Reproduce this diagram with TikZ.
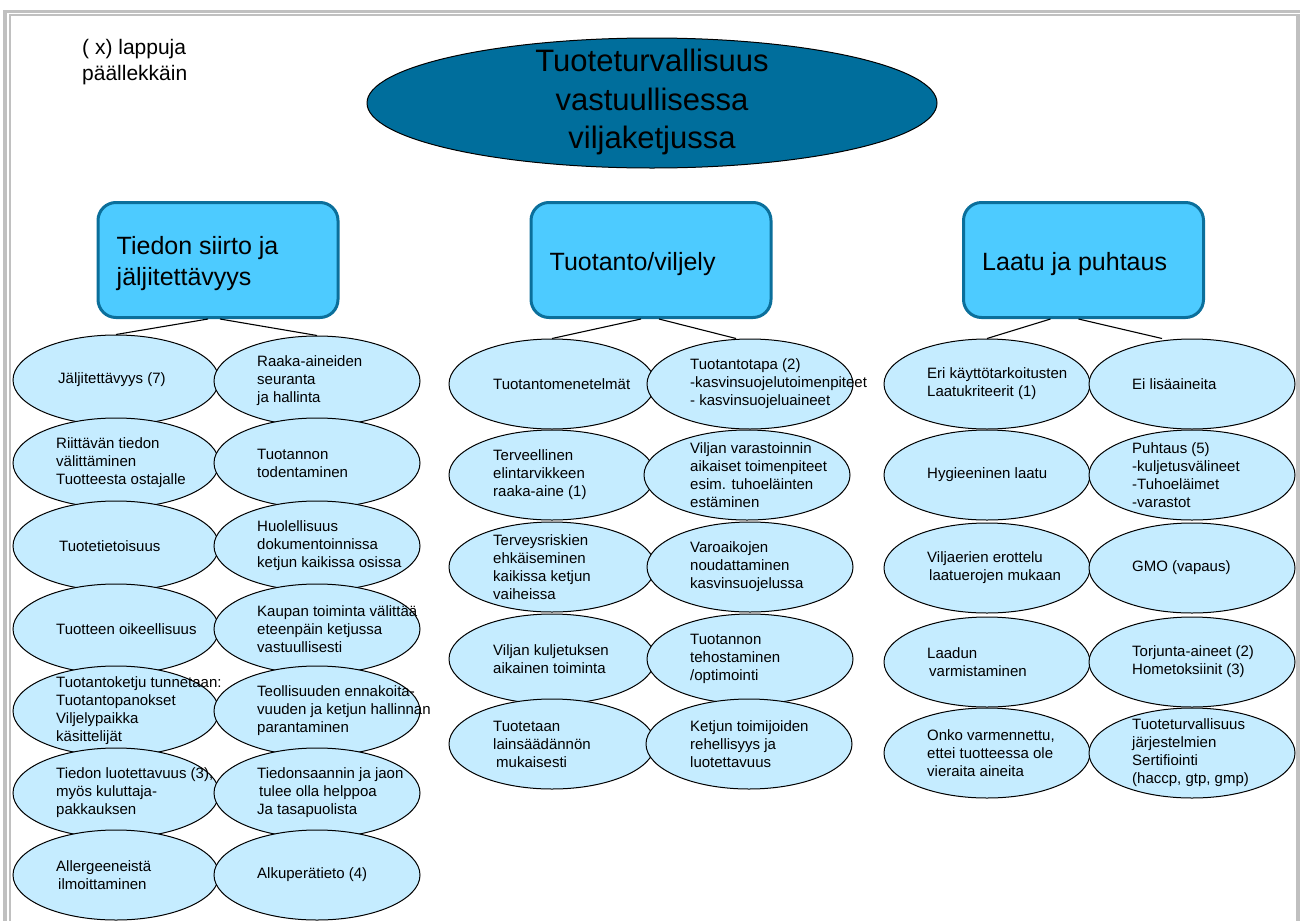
\documentclass[tikz,border=0pt]{standalone}
\usepackage{fontspec}
\setmainfont{Liberation Sans}
\usetikzlibrary{shapes.geometric}

\definecolor{framegray}{HTML}{C0C0C0}
\definecolor{titlefill}{HTML}{006E9C}
\definecolor{catfill}{HTML}{4DCBFF}
\definecolor{catline}{HTML}{0B6F9B}
\definecolor{leaffill}{HTML}{C5ECFF}

\begin{document}
\begin{tikzpicture}[x=1pt,y=-1pt,
  frameline/.style={draw=framegray},
  titleshape/.style={ellipse, draw=black, line width=1pt, fill=titlefill,
    minimum width=570pt, minimum height=130pt, inner sep=0pt},
  titletext/.style={align=center, inner sep=0pt, font=\fontsize{31}{38.5}\selectfont},
  cat/.style={rectangle, rounded corners=18pt, draw=catline, line width=3pt,
    fill=catfill, minimum width=240pt, minimum height=115pt},
  cattext/.style={anchor=west, align=left, inner sep=0pt, xshift=20pt, yshift=-4pt,
    font=\fontsize{25}{31}\selectfont},
  conn/.style={draw=black, line width=1.1pt},
  leaf/.style={ellipse, draw=black, line width=1pt, fill=leaffill,
    minimum width=206pt, minimum height=90pt, inner sep=0pt},
  leaftext/.style={anchor=west, align=left, inner sep=0pt, xshift=-60pt,
    font=\fontsize{15}{18}\selectfont},
  note/.style={anchor=north west, align=left, inner sep=0pt,
    font=\fontsize{21}{26}\selectfont}
]
\useasboundingbox (0,0) rectangle (1300,921);

% page frame
\draw[frameline, line width=3pt] (3,11.5) -- (1300,11.5);
\draw[frameline, line width=2pt] (9,15) -- (1296,15);
\draw[frameline, line width=4pt] (5,10) -- (5,921);
\draw[frameline, line width=2pt] (10,14) -- (10,921);
\draw[frameline, line width=4pt] (1298,14) -- (1298,921);

% note in the corner
\node[note] (note) at (82,39) {( x) lappuja\\päällekkäin};

% main topic
\node[titleshape] (title) at (652,103) {};
\node[titletext] (titlet) at ([yshift=1pt]title.center)
  {Tuoteturvallisuus\\vastuullisessa\\viljaketjussa};

% three categories
\node[cat] (b1) at (218,260) {};
\node[cat] (b2) at (651,260) {};
\node[cat] (b3) at (1083.5,260) {};
\node[cattext] (b1t) at (b1.west) {Tiedon siirto ja\\jäljitettävyys};
\node[cattext] (b2t) at (b2.west) {Tuotanto/viljely};
\node[cattext] (b3t) at (b3.west) {Laatu ja puhtaus};

% leaf ellipses, column 1
\node[leaf] (a1l) at (116,380) {};
\node[leaf] (a1r) at (317,381) {};
\node[leaf] (a2l) at (116,463) {};
\node[leaf] (a2r) at (317,463) {};
\node[leaf] (a3l) at (116,546) {};
\node[leaf] (a3r) at (317,546) {};
\node[leaf] (a4l) at (116,629) {};
\node[leaf] (a4r) at (317,629) {};
\node[leaf] (a5l) at (116,711) {};
\node[leaf] (a5r) at (317,711) {};
\node[leaf] (a6l) at (116,793) {};
\node[leaf] (a6r) at (317,793) {};
\node[leaf] (a7l) at (116,875) {};
\node[leaf] (a7r) at (317,875) {};

% leaf ellipses, column 2
\node[leaf] (c1l) at (552,384) {};
\node[leaf] (c1r) at (750,384) {};
\node[leaf] (c2l) at (552,475) {};
\node[leaf] (c2r) at (747,475) {};
\node[leaf] (c3l) at (552,567) {};
\node[leaf] (c3r) at (750,567) {};
\node[leaf] (c4l) at (552,659) {};
\node[leaf] (c4r) at (750,659) {};
\node[leaf] (c5l) at (552,744) {};
\node[leaf] (c5r) at (749,744) {};

% leaf ellipses, column 3
\node[leaf] (d1l) at (987,384) {};
\node[leaf] (d1r) at (1192,384) {};
\node[leaf] (d2l) at (987,475) {};
\node[leaf] (d2r) at (1192,475) {};
\node[leaf] (d3l) at (987,568) {};
\node[leaf] (d3r) at (1192,568) {};
\node[leaf] (d4l) at (987,662) {};
\node[leaf] (d4r) at (1192,662) {};
\node[leaf] (d5l) at (987,753) {};
\node[leaf] (d5r) at (1192,753) {};

% connectors from the categories to their first leaves
\draw[conn] ([xshift=-10pt]b1.south) -- (a1l.north);
\draw[conn] ([xshift=2pt]b1.south) -- (a1r.north);
\draw[conn] ([xshift=-10pt]b2.south) -- (c1l.north);
\draw[conn] ([xshift=8pt]b2.south) -- ([xshift=-14pt]c1r.north);
\draw[conn] ([xshift=-33pt]b3.south) -- (d1l.north);
\draw[conn] ([xshift=-5pt]b3.south) -- ([xshift=-30pt]d1r.north);

% leaf texts, column 1
\node[leaftext] (a1lt) at ([xshift=2pt]a1l.center) {Jäljitettävyys (7)};
\node[leaftext] (a1rt) at (a1r.center) {Raaka-aineiden\\seuranta\\ja hallinta};
\node[leaftext] (a2lt) at (a2l.center) {Riittävän tiedon\\välittäminen\\Tuotteesta ostajalle};
\node[leaftext] (a2rt) at (a2r.center) {Tuotannon\\todentaminen};
\node[leaftext] (a3lt) at ([xshift=3pt]a3l.center) {Tuotetietoisuus};
\node[leaftext] (a3rt) at (a3r.center) {Huolellisuus\\dokumentoinnissa\\ketjun kaikissa osissa};
\node[leaftext] (a4lt) at (a4l.center) {Tuotteen oikeellisuus};
\node[leaftext] (a4rt) at (a4r.center) {Kaupan toiminta välittää\\eteenpäin ketjussa\\vastuullisesti};
\node[leaftext] (a5lt) at (a5l.center) {Tuotantoketju tunnetaan:\\Tuotantopanokset\\Viljelypaikka\\käsittelijät};
\node[leaftext] (a5rt) at (a5r.center) {Teollisuuden ennakoita-\\vuuden ja ketjun hallinnan\\parantaminen};
\node[leaftext] (a6lt) at (a6l.center) {Tiedon luotettavuus (3),\\myös kuluttaja-\\pakkauksen};
\node[leaftext] (a6rt) at (a6r.center) {Tiedonsaannin ja jaon\\\hspace*{2pt}tulee olla helppoa\\Ja tasapuolista};
\node[leaftext] (a7lt) at (a7l.center) {Allergeeneistä\\\hspace*{2pt}ilmoittaminen};
\node[leaftext] (a7rt) at (a7r.center) {Alkuperätieto (4)};

% leaf texts, column 2
\node[leaftext] (c1lt) at ([xshift=1pt]c1l.center) {Tuotantomenetelmät};
\node[leaftext] (c1rt) at (c1r.center) {Tuotantotapa (2)\\-kasvinsuojelutoimenpiteet\\- kasvinsuojeluaineet};
\node[leaftext] (c2lt) at ([xshift=1pt]c2l.center) {Terveellinen\\elintarvikkeen\\raaka-aine (1)};
\node[leaftext] (c2rt) at ([xshift=3pt]c2r.center) {Viljan varastoinnin\\aikaiset toimenpiteet\\esim. tuhoeläinten\\estäminen};
\node[leaftext] (c3lt) at ([xshift=1pt]c3l.center) {Terveysriskien\\ehkäiseminen\\kaikissa ketjun\\vaiheissa};
\node[leaftext] (c3rt) at (c3r.center) {Varoaikojen\\noudattaminen\\kasvinsuojelussa};
\node[leaftext] (c4lt) at ([xshift=1pt]c4l.center) {Viljan kuljetuksen\\aikainen toiminta};
\node[leaftext] (c4rt) at (c4r.center) {Tuotannon\\tehostaminen\\/optimointi};
\node[leaftext] (c5lt) at ([xshift=1pt]c5l.center) {Tuotetaan\\lainsäädännön\\\hspace*{3pt}mukaisesti};
\node[leaftext] (c5rt) at ([xshift=1pt]c5r.center) {Ketjun toimijoiden\\rehellisyys ja\\luotettavuus};

% leaf texts, column 3
\node[leaftext] (d1lt) at (d1l.center) {Eri käyttötarkoitusten\\Laatukriteerit (1)};
\node[leaftext] (d1rt) at (d1r.center) {Ei lisäaineita};
\node[leaftext] (d2lt) at (d2l.center) {Hygieeninen laatu};
\node[leaftext] (d2rt) at (d2r.center) {Puhtaus (5)\\-kuljetusvälineet\\-Tuhoeläimet\\-varastot};
\node[leaftext] (d3lt) at (d3l.center) {Viljaerien erottelu\\\hspace*{2pt}laatuerojen mukaan};
\node[leaftext] (d3rt) at (d3r.center) {GMO (vapaus)};
\node[leaftext] (d4lt) at (d4l.center) {Laadun\\\hspace*{2pt}varmistaminen};
\node[leaftext] (d4rt) at (d4r.center) {Torjunta-aineet (2)\\Hometoksiinit (3)};
\node[leaftext] (d5lt) at (d5l.center) {Onko varmennettu,\\ettei tuotteessa ole\\vieraita aineita};
\node[leaftext] (d5rt) at (d5r.center) {Tuoteturvallisuus\\järjestelmien\\Sertifiointi\\(haccp, gtp, gmp)};
\end{tikzpicture}
\end{document}
